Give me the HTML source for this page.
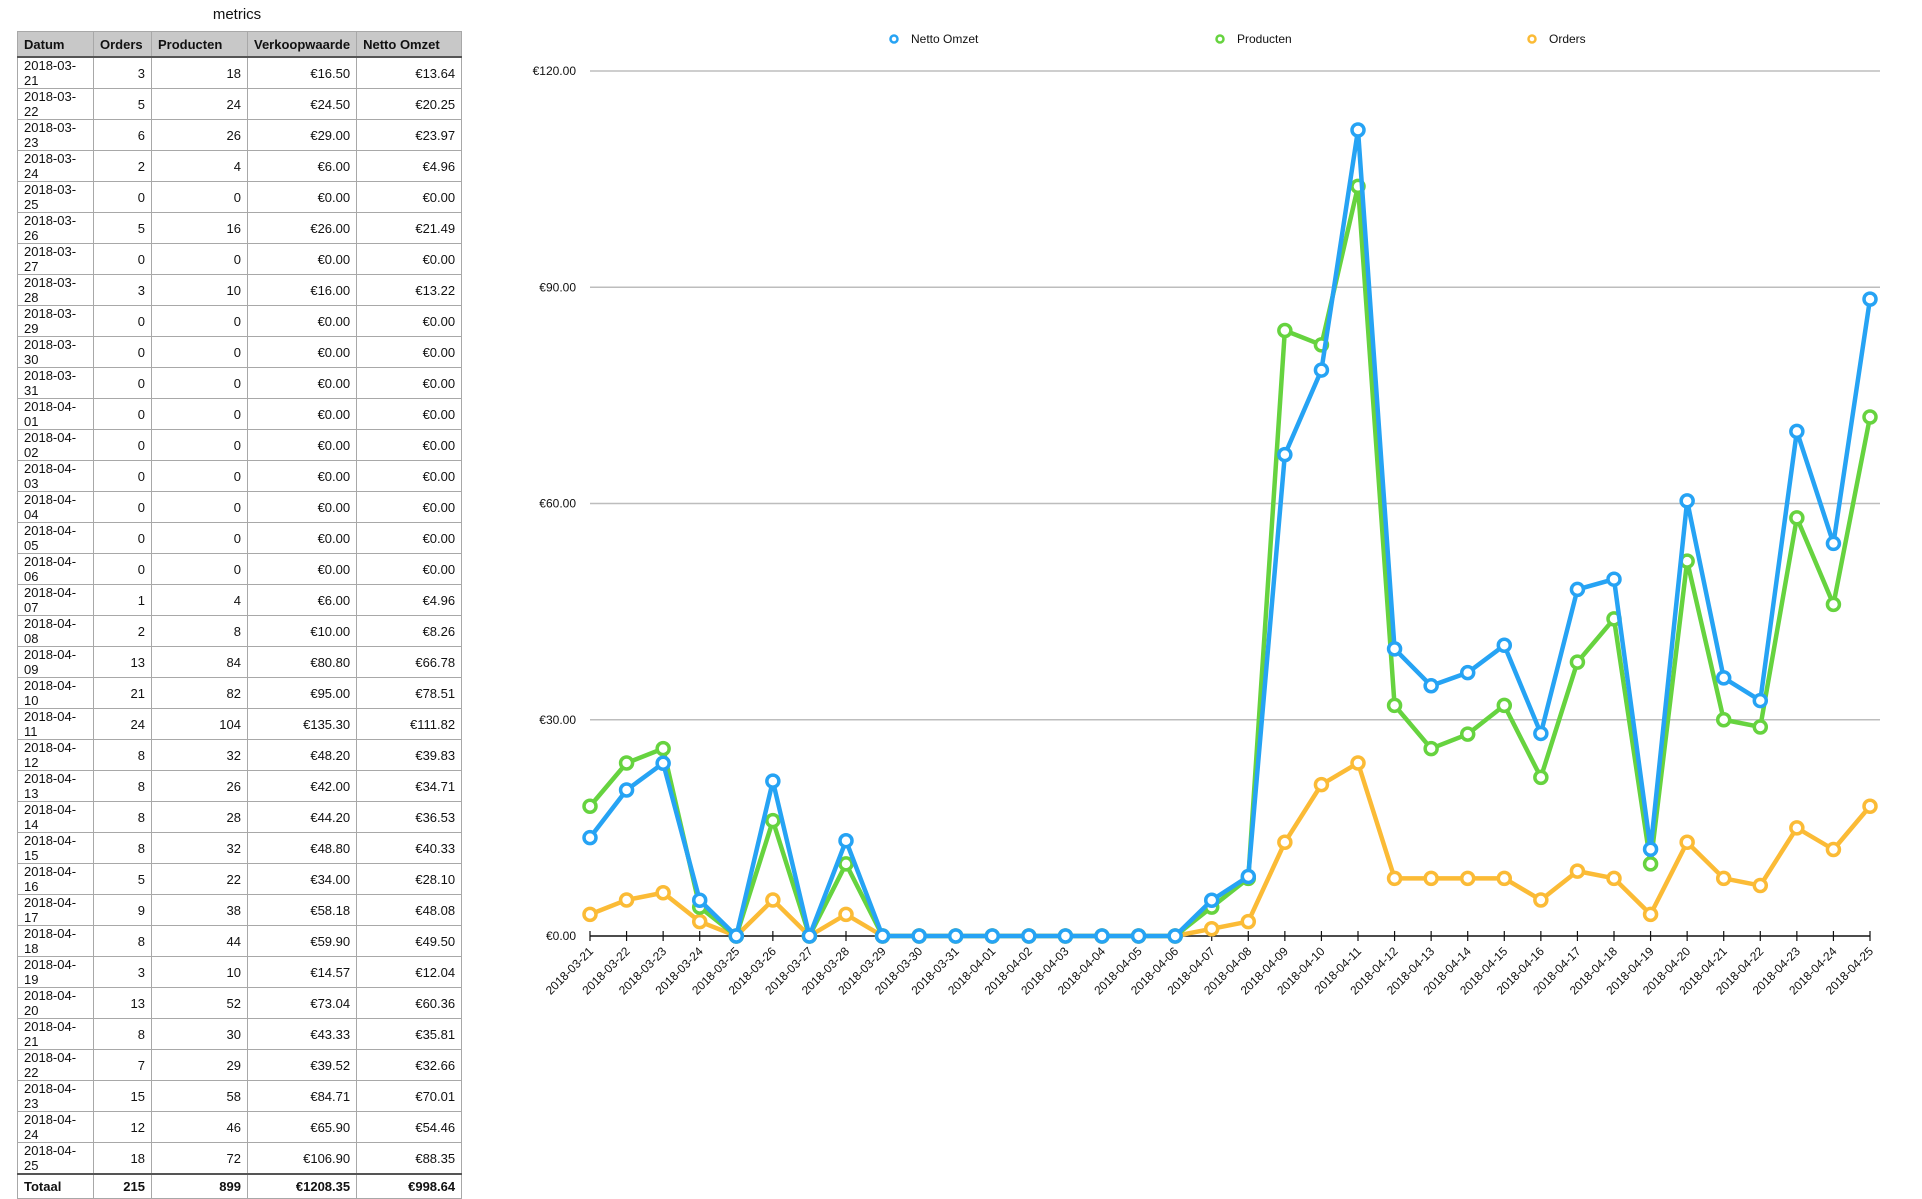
<!DOCTYPE html>
<html><head><meta charset="utf-8">
<style>
body{margin:0;width:1922px;height:1031px;background:#fff;font-family:"Liberation Sans",sans-serif;overflow:hidden;position:relative}
#title{position:absolute;left:17px;width:440px;top:6px;text-align:center;font-size:15px;color:#111}
table{position:absolute;left:17px;top:31px;border-collapse:collapse;font-size:13px;color:#111}
td,th{border:1px solid #a8a8a8;height:23.45px;padding:0 6px;text-align:right}
th{background:#c8c8c8;text-align:left;height:24px;border-bottom:2px solid #555;font-weight:bold}
td:first-child{text-align:left}
tr.tot td{font-weight:bold;border-top:2px solid #555}
svg{position:absolute;left:0;top:0}
</style></head><body>
<div id="title">metrics</div>
<table>
<colgroup><col style="width:76px"><col style="width:58px"><col style="width:96px"><col style="width:104px"><col style="width:105px"></colgroup>
<thead><tr><th>Datum</th><th>Orders</th><th>Producten</th><th>Verkoopwaarde</th><th>Netto Omzet</th></tr></thead>
<tbody id="tb"></tbody>
</table>
<svg id="chart" width="1922" height="1031"></svg>
<script>
const dates=["2018-03-21","2018-03-22","2018-03-23","2018-03-24","2018-03-25","2018-03-26","2018-03-27","2018-03-28","2018-03-29","2018-03-30","2018-03-31","2018-04-01","2018-04-02","2018-04-03","2018-04-04","2018-04-05","2018-04-06","2018-04-07","2018-04-08","2018-04-09","2018-04-10","2018-04-11","2018-04-12","2018-04-13","2018-04-14","2018-04-15","2018-04-16","2018-04-17","2018-04-18","2018-04-19","2018-04-20","2018-04-21","2018-04-22","2018-04-23","2018-04-24","2018-04-25"];
const orders=[3,5,6,2,0,5,0,3,0,0,0,0,0,0,0,0,0,1,2,13,21,24,8,8,8,8,5,9,8,3,13,8,7,15,12,18];
const producten=[18,24,26,4,0,16,0,10,0,0,0,0,0,0,0,0,0,4,8,84,82,104,32,26,28,32,22,38,44,10,52,30,29,58,46,72];
const verkoop=[16.50,24.50,29.00,6.00,0,26.00,0,16.00,0,0,0,0,0,0,0,0,0,6.00,10.00,80.80,95.00,135.30,48.20,42.00,44.20,48.80,34.00,58.18,59.90,14.57,73.04,43.33,39.52,84.71,65.90,106.90];
const netto=[13.64,20.25,23.97,4.96,0,21.49,0,13.22,0,0,0,0,0,0,0,0,0,4.96,8.26,66.78,78.51,111.82,39.83,34.71,36.53,40.33,28.10,48.08,49.50,12.04,60.36,35.81,32.66,70.01,54.46,88.35];
const yTicks=[0,30,60,90,120];
const totals={orders:"215",producten:"899",verkoop:"€1208.35",netto:"€998.64"};

const tb=document.getElementById('tb');
dates.forEach((d,i)=>{
  const tr=document.createElement('tr');
  
  
  tr.innerHTML=`<td>${d}</td><td>${orders[i]}</td><td>${producten[i]}</td><td>€${verkoop[i].toFixed(2)}</td><td>€${netto[i].toFixed(2)}</td>`;
  tb.appendChild(tr);
});
const tt=document.createElement('tr');tt.className='tot';


tt.innerHTML=`<td>Totaal</td><td>${totals.orders}</td><td>${totals.producten}</td><td>${totals.verkoop}</td><td>${totals.netto}</td>`;
tb.appendChild(tt);

const NS='http://www.w3.org/2000/svg';
const svg=document.getElementById('chart');
const x0=590,x1=1870,y0=936,y1=71;
const xs=i=>x0+(x1-x0)*i/(dates.length-1);
const ys=v=>y0-(y0-y1)*v/120;
function el(t,a,p){const e=document.createElementNS(NS,t);for(const k in a)e.setAttribute(k,a[k]);(p||svg).appendChild(e);return e;}
yTicks.forEach(v=>{
  if(v>0){const g=el('line',{x1:x0,x2:1880,y1:ys(v),y2:ys(v),stroke:'#bdbdbd','stroke-width':1.5});
  
  }
  const t=el('text',{x:576,y:ys(v)+4,'text-anchor':'end','font-size':12,fill:'#111'});
  t.textContent='€'+v.toFixed(2);
  
  
});
const ax=el('line',{x1:x0,x2:x1,y1:y0,y2:y0,stroke:'#111','stroke-width':1.5});


dates.forEach((d,i)=>{
  el('line',{x1:xs(i),x2:xs(i),y1:y0-5,y2:y0+5,stroke:'#111','stroke-width':1.2});
  const t=el('text',{x:0,y:0,'text-anchor':'end','font-size':12,fill:'#111',transform:`translate(${xs(i)+4},${y0+16}) rotate(-45)`});
  t.textContent=d;
  
  
});
const series=[[orders,'#fbbb36','orders-series'],[producten,'#66d33f','producten-series'],[netto,'#26a3f4','netto-omzet-series']];
series.forEach(([vals,c,n])=>{
  const g=el('g',{});
  
  
  el('polyline',{points:vals.map((v,i)=>xs(i)+','+ys(v)).join(' '),fill:'none',stroke:c,'stroke-width':4.5,'stroke-linejoin':'round'},g);
  vals.forEach((v,i)=>{const p=el('circle',{cx:xs(i),cy:ys(v),r:6,fill:'#fff',stroke:c,'stroke-width':3.5},g);
    
    });
});
const leg=[[894,'#26a3f4','Netto Omzet'],[1220,'#66d33f','Producten'],[1532,'#fbbb36','Orders']];
leg.forEach(([x,c,l])=>{
  const g=el('g',{});
  
  
  el('circle',{cx:x,cy:39,r:3.5,fill:'#fff',stroke:c,'stroke-width':2.5},g);
  const t=el('text',{x:x+17,y:43,'font-size':12,fill:'#111'},g);t.textContent=l;
});
</script>
</body></html>
